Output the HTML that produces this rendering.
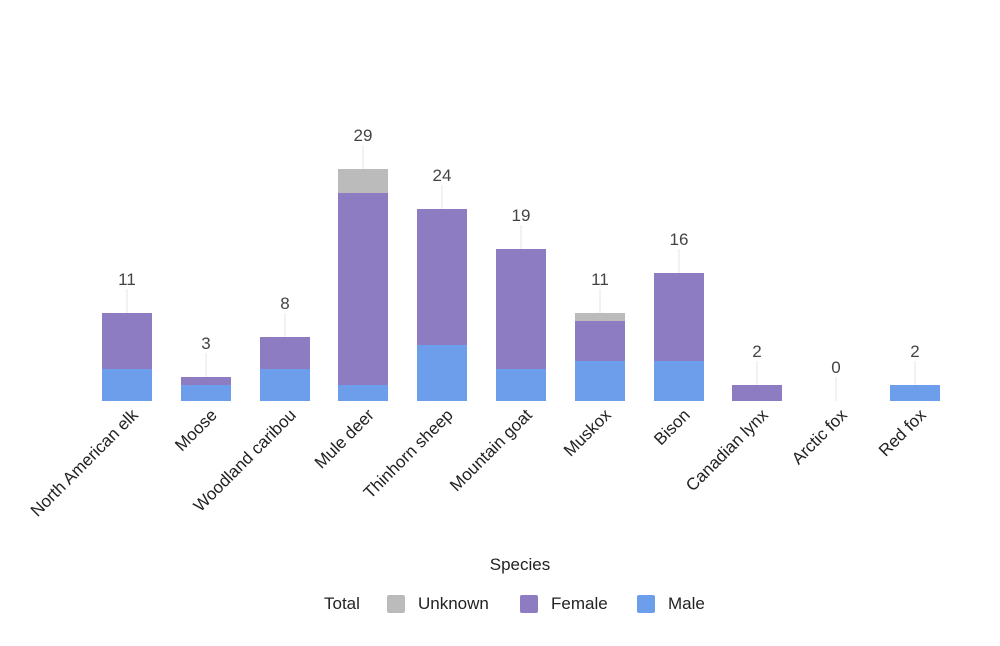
<!DOCTYPE html><html><head><style>body{margin:0;background:#fff}svg{display:block;font-family:"Liberation Sans",Arial,sans-serif}</style></head><body>
<svg width="1000" height="646" viewBox="0 0 1000 646">
<g stroke="#e6e6e6" stroke-width="1">
<line x1="127" x2="127" y1="289" y2="313"/><line x1="206" x2="206" y1="353" y2="377"/><line x1="285" x2="285" y1="313" y2="337"/><line x1="363" x2="363" y1="145" y2="169"/><line x1="442" x2="442" y1="185" y2="209"/><line x1="521" x2="521" y1="225" y2="249"/><line x1="600" x2="600" y1="289" y2="313"/><line x1="679" x2="679" y1="249" y2="273"/><line x1="757" x2="757" y1="361" y2="385"/><line x1="836" x2="836" y1="377" y2="401"/><line x1="915" x2="915" y1="361" y2="385"/>
</g>
<g fill="#6d9eeb">
<rect x="102" y="369" width="50" height="32"/><rect x="181" y="385" width="50" height="16"/><rect x="260" y="369" width="50" height="32"/><rect x="338" y="385" width="50" height="16"/><rect x="417" y="345" width="50" height="56"/><rect x="496" y="369" width="50" height="32"/><rect x="575" y="361" width="50" height="40"/><rect x="654" y="361" width="50" height="40"/><rect x="890" y="385" width="50" height="16"/>
</g>
<g fill="#8e7cc3">
<rect x="102" y="313" width="50" height="56"/><rect x="181" y="377" width="50" height="8"/><rect x="260" y="337" width="50" height="32"/><rect x="338" y="193" width="50" height="192"/><rect x="417" y="209" width="50" height="136"/><rect x="496" y="249" width="50" height="120"/><rect x="575" y="321" width="50" height="40"/><rect x="654" y="273" width="50" height="88"/><rect x="732" y="385" width="50" height="16"/>
</g>
<g fill="#bbbbbb">
<rect x="338" y="169" width="50" height="24"/><rect x="575" y="313" width="50" height="8"/>
</g>
<g font-size="17" fill="#444" text-anchor="middle">
<text x="127" y="285">11</text><text x="206" y="349">3</text><text x="285" y="309">8</text><text x="363" y="141">29</text><text x="442" y="181">24</text><text x="521" y="221">19</text><text x="600" y="285">11</text><text x="679" y="245">16</text><text x="757" y="357">2</text><text x="836" y="373">0</text><text x="915" y="357">2</text>
</g>
<g font-size="17" fill="#222" text-anchor="end">
<text transform="translate(139,416) rotate(-45)">North American elk</text>
<text transform="translate(218,416) rotate(-45)">Moose</text>
<text transform="translate(297,416) rotate(-45)">Woodland caribou</text>
<text transform="translate(375,416) rotate(-45)">Mule deer</text>
<text transform="translate(454,416) rotate(-45)">Thinhorn sheep</text>
<text transform="translate(533,416) rotate(-45)">Mountain goat</text>
<text transform="translate(612,416) rotate(-45)">Muskox</text>
<text transform="translate(691,416) rotate(-45)">Bison</text>
<text transform="translate(769,416) rotate(-45)">Canadian lynx</text>
<text transform="translate(848,416) rotate(-45)">Arctic fox</text>
<text transform="translate(927,416) rotate(-45)">Red fox</text>
</g>
<text x="520" y="570" text-anchor="middle" font-size="17" fill="#222">Species</text>
<text x="324" y="609" font-size="17" fill="#222">Total</text>
<rect x="387" y="595" width="18" height="18" rx="2" fill="#bbbbbb"/><text x="418" y="609" font-size="17" fill="#222">Unknown</text>
<rect x="520" y="595" width="18" height="18" rx="2" fill="#8e7cc3"/><text x="551" y="609" font-size="17" fill="#222">Female</text>
<rect x="637" y="595" width="18" height="18" rx="2" fill="#6d9eeb"/><text x="668" y="609" font-size="17" fill="#222">Male</text>
</svg></body></html>
